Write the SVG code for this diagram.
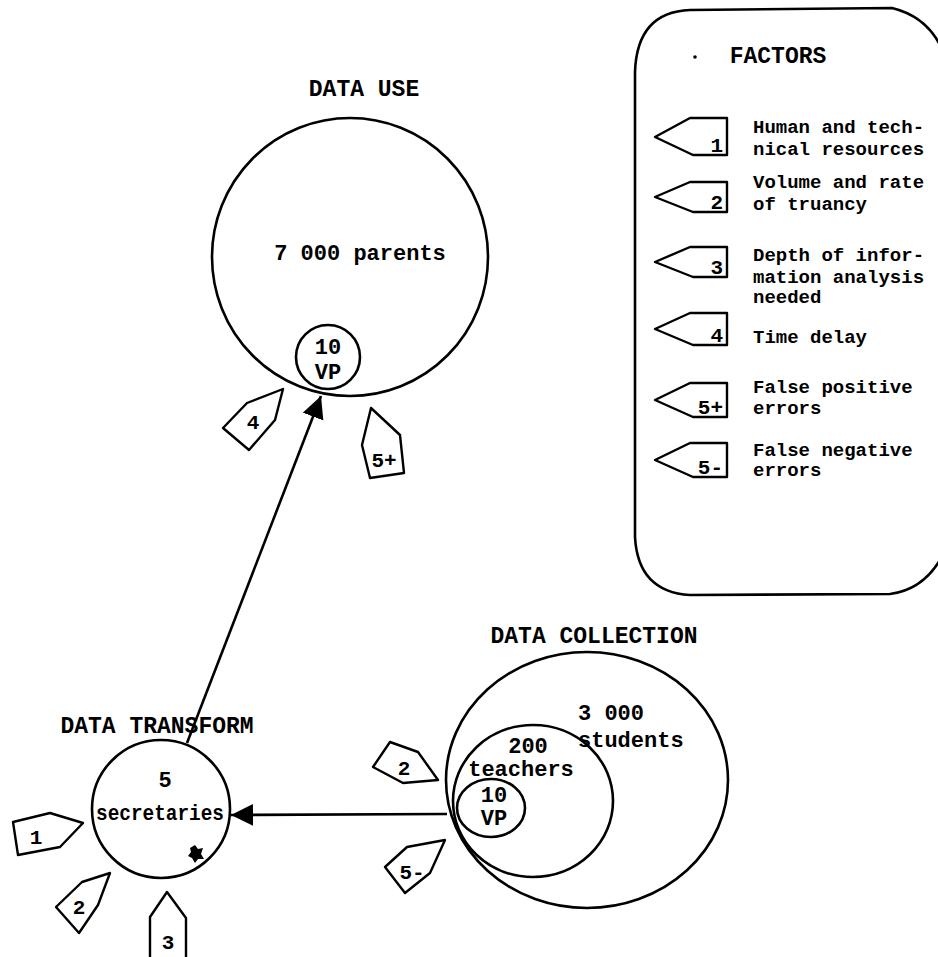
<svg xmlns="http://www.w3.org/2000/svg" width="938" height="957" viewBox="0 0 938 957">
<style>
.ln{fill:none;stroke:#000;stroke-width:2.6}
.tag{fill:#fff;stroke:#000;stroke-width:2.4;stroke-linejoin:round}
.h{font-family:"Liberation Mono","DejaVu Sans Mono",monospace;font-size:23px;font-weight:bold;fill:#000}
.t{font-family:"Liberation Mono","DejaVu Sans Mono",monospace;font-size:22px;font-weight:bold;fill:#000}
.s{font-family:"Liberation Mono","DejaVu Sans Mono",monospace;font-size:19px;font-weight:bold;fill:#000}
.n{font-family:"Liberation Mono","DejaVu Sans Mono",monospace;font-size:21px;font-weight:bold;fill:#000}
</style>
<defs>
<marker id="ah" markerUnits="userSpaceOnUse" markerWidth="24" markerHeight="24" refX="22" refY="11" orient="auto">
<path d="M0,0 L22,11 L0,22 z" fill="#000"/>
</marker>
</defs>
<rect width="938" height="957" fill="#fff"/>

<g id="connectors">
<line class="ln" x1="187" y1="743" x2="321" y2="396" marker-end="url(#ah)"/>
<line class="ln" x1="447" y1="814" x2="231" y2="815" marker-end="url(#ah)"/>
</g>

<g id="legend">
<path class="ln" d="M 940,45 Q 925,16 892,8 L 690,10 Q 637,12 635,72 L 635,537 Q 638,592 690,595 L 890,594 Q 922,590 940,560"/>
<text class="h" x="778" y="63" text-anchor="middle">FACTORS</text>
<circle cx="695" cy="57" r="1.8" fill="#000"/>
<polygon class="tag" points="655,137 690,118 727,118 727,155 693,155"/>
<text class="n" x="723" y="152" text-anchor="end">1</text>
<text class="s" x="753" y="133">Human and tech-</text>
<text class="s" x="753" y="155">nical resources</text>
<polygon class="tag" points="655,197 690,182 727,182 727,212 693,212"/>
<text class="n" x="723" y="209" text-anchor="end">2</text>
<text class="s" x="753" y="188">Volume and rate</text>
<text class="s" x="753" y="210">of truancy</text>
<polygon class="tag" points="655,262 690,247 727,247 727,277 693,277"/>
<text class="n" x="723" y="274" text-anchor="end">3</text>
<text class="s" x="753" y="261">Depth of infor-</text>
<text class="s" x="753" y="283">mation analysis</text>
<text class="s" x="753" y="303">needed</text>
<polygon class="tag" points="655,329 690,313 727,313 727,345 693,345"/>
<text class="n" x="723" y="342" text-anchor="end">4</text>
<text class="s" x="753" y="343">Time delay</text>
<polygon class="tag" points="655,400 690,383 727,383 727,417 693,417"/>
<text class="n" x="723" y="414" text-anchor="end">5+</text>
<text class="s" x="753" y="393">False positive</text>
<text class="s" x="753" y="414">errors</text>
<polygon class="tag" points="655,460 690,443 727,443 727,477 693,477"/>
<text class="n" x="723" y="474" text-anchor="end">5-</text>
<text class="s" x="753" y="456">False negative</text>
<text class="s" x="753" y="476">errors</text>
</g>

<g id="data-use">
<text class="h" x="364" y="96" text-anchor="middle">DATA USE</text>
<ellipse class="ln" cx="350" cy="257" rx="138" ry="139"/>
<text class="t" x="360" y="260" text-anchor="middle">7 000 parents</text>
<circle class="ln" cx="328" cy="357" r="32"/>
<text class="t" x="328" y="354" text-anchor="middle" font-size="20">10</text>
<text class="t" x="328" y="379" text-anchor="middle" font-size="20">VP</text>
</g>

<g id="tag-use-4">
<polygon class="tag" points="283,389 247,403 223,428 249,450 275,420"/>
<text class="n" x="253" y="429" text-anchor="middle">4</text>
</g>
<g id="tag-use-5plus">
<polygon class="tag" points="371,408 400,435 404,473 370,478 362,445"/>
<text class="n" x="384" y="467" text-anchor="middle">5+</text>
</g>

<g id="data-transform">
<text class="h" x="157" y="733" text-anchor="middle">DATA TRANSFORM</text>
<circle class="ln" cx="161" cy="809" r="69"/>
<text class="t" x="165" y="787" text-anchor="middle" font-size="20">5</text>
<text class="t" x="160" y="820" text-anchor="middle" font-size="20" textLength="128" lengthAdjust="spacingAndGlyphs">secretaries</text>
<polygon points="190,848 195,845 198,849 203,848 201,854 204,859 198,859 195,863 192,858 188,856 191,852" fill="#000"/>
</g>

<g id="tag-transform-1">
<polygon class="tag" points="13,822 50,813 83,823 60,847 18,855"/>
<text class="n" x="36" y="844" text-anchor="middle">1</text>
</g>
<g id="tag-transform-2">
<polygon class="tag" points="110,873 82,882 56,907 79,933 98,905"/>
<text class="n" x="79" y="914" text-anchor="middle">2</text>
</g>
<g id="tag-transform-3">
<polygon class="tag" points="167,892 186,918 186,960 150,960 150,917"/>
<text class="n" x="168" y="949" text-anchor="middle">3</text>
</g>

<g id="data-collection">
<text class="h" x="594" y="643" text-anchor="middle">DATA COLLECTION</text>
<ellipse class="ln" cx="587" cy="780" rx="141" ry="128"/>
<ellipse class="ln" cx="533" cy="801" rx="80" ry="76"/>
<ellipse class="ln" cx="491" cy="808" rx="34" ry="29"/>
<text class="t" x="578" y="720">3 000</text>
<text class="t" x="578" y="747">students</text>
<text class="t" x="528" y="753" text-anchor="middle" font-size="20">200</text>
<text class="t" x="521" y="776" text-anchor="middle" font-size="20">teachers</text>
<text class="t" x="494" y="802" text-anchor="middle" font-size="18">10</text>
<text class="t" x="494" y="825" text-anchor="middle" font-size="18">VP</text>
</g>

<g id="tag-collection-2">
<polygon class="tag" points="373,767 390,742 418,752 438,780 403,783"/>
<text class="n" x="404" y="775" text-anchor="middle">2</text>
</g>
<g id="tag-collection-5minus">
<polygon class="tag" points="445,840 407,847 385,867 405,893 430,873"/>
<text class="n" x="412" y="879" text-anchor="middle">5-</text>
</g>
</svg>
